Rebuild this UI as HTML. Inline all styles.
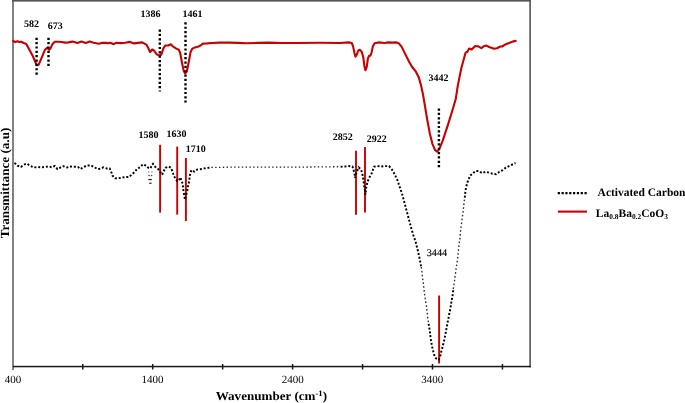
<!DOCTYPE html>
<html><head><meta charset="utf-8"><style>
html,body{margin:0;padding:0;background:#fff;}
svg{display:block;will-change:transform;}
text{font-family:"Liberation Serif",serif;text-rendering:geometricPrecision;}
.b{font-weight:bold;}
</style></head><body>
<svg width="685" height="403" viewBox="0 0 685 403">
<rect width="685" height="403" fill="#fff"/>
<!-- frame -->
<rect x="12" y="0" width="2" height="370" fill="#828282"/>
<rect x="12" y="0" width="519" height="1.6" fill="#555"/>
<rect x="529.3" y="0" width="1.6" height="367.3" fill="#555"/>
<rect x="13" y="365.8" width="517.9" height="1.5" fill="#1a1a1a"/>
<line x1="82.75" y1="364" x2="82.75" y2="369.5" stroke="#1a1a1a" stroke-width="1.5"/><line x1="152.70" y1="364" x2="152.70" y2="369.5" stroke="#1a1a1a" stroke-width="1.5"/><line x1="222.65" y1="364" x2="222.65" y2="369.5" stroke="#1a1a1a" stroke-width="1.5"/><line x1="292.60" y1="364" x2="292.60" y2="369.5" stroke="#1a1a1a" stroke-width="1.5"/><line x1="362.55" y1="364" x2="362.55" y2="369.5" stroke="#1a1a1a" stroke-width="1.5"/><line x1="432.50" y1="364" x2="432.50" y2="369.5" stroke="#1a1a1a" stroke-width="1.5"/><line x1="502.45" y1="364" x2="502.45" y2="369.5" stroke="#1a1a1a" stroke-width="1.5"/>
<!-- tick labels -->
<g font-size="11" text-anchor="middle" fill="#000">
<text x="12.9" y="383.2">400</text>
<text x="152.6" y="383.2">1400</text>
<text x="292.8" y="383.2">2400</text>
<text x="432.3" y="383.2">3400</text>
</g>
<text class="b" transform="translate(271.4,400) scale(1.065,1)" font-size="12.3" text-anchor="middle">Wavenumber (cm<tspan dy="-4.2" font-size="8.2">-1</tspan><tspan dy="4.2">)</tspan></text>
<text class="b" transform="translate(8.9,183) rotate(-90) scale(1.06,1)" font-size="12.4" text-anchor="middle">Transmittance (a.u)</text>
<!-- spectra -->
<path d="M13.2,40.9 L15.1,42.1 L17.6,41.2 L19.4,42.0 L21.3,41.8 L23.8,43.0 L26.3,43.9 L29.4,49.8 L32.5,55.4 L34.9,61.0 L36.8,65.3 L38.7,64.7 L41.8,57.3 L44.9,49.8 L47.3,47.7 L49.2,49.8 L50.4,48.6 L52.3,44.3 L54.8,41.8 L57.9,41.8 L61.6,42.0 L65.3,42.6 L68.4,42.4 L72.6,41.6 L77.4,43.0 L81.4,41.6 L85.8,42.9 L89.7,41.6 L93.6,42.7 L98.9,43.8 L101.5,42.9 L105.9,42.9 L108.5,43.3 L110.3,42.7 L113.8,44.2 L116.4,42.7 L120.8,43.1 L125.2,42.7 L130.0,41.9 L134.2,43.4 L137.9,42.9 L142.3,42.4 L146.6,44.9 L148.5,48.6 L150.1,52.1 L152.2,49.5 L154.0,50.5 L156.5,54.2 L159.0,55.4 L161.2,54.8 L163.3,48.6 L165.2,45.5 L168.3,45.5 L170.8,44.3 L173.2,46.7 L176.3,48.6 L178.8,49.8 L180.2,53.0 L181.9,62.2 L183.7,70.9 L185.2,73.4 L186.8,71.5 L188.7,62.2 L190.5,52.3 L192.4,48.6 L194.9,47.4 L198.6,46.5 L200.5,45.5 L202.9,43.6 L207.3,43.4 L212.2,43.0 L219.7,42.6 L229.6,42.6 L238.0,42.9 L246.0,43.3 L258.0,42.9 L269.0,42.6 L282.0,43.0 L298.0,43.0 L320.0,42.8 L340.0,43.0 L348.7,42.4 L351.8,43.0 L353.0,46.1 L354.3,52.3 L355.5,56.7 L356.7,54.8 L358.3,50.5 L359.8,49.8 L361.7,51.7 L363.3,57.3 L364.4,66.0 L365.4,70.3 L366.7,67.2 L367.9,58.5 L369.1,55.8 L370.4,55.7 L371.6,52.3 L372.9,46.1 L374.7,43.3 L378.4,42.4 L384.6,43.0 L388.3,42.4 L392.1,42.6 L396.4,42.4 L398.7,43.2 L401.7,46.9 L405.4,54.4 L409.1,61.8 L412.1,67.0 L415.8,71.5 L418.8,77.4 L421.1,85.6 L423.0,94.5 L424.6,103.9 L427.2,119.5 L429.8,133.4 L432.4,143.8 L435.0,149.9 L437.2,151.7 L439.3,149.1 L442.8,140.4 L448.0,124.7 L452.3,110.8 L455.8,98.7 L457.8,85.6 L461.3,68.2 L463.9,58.7 L465.6,52.6 L467.4,51.7 L469.1,48.6 L471.7,49.5 L475.2,46.0 L477.8,46.2 L481.3,48.2 L483.9,46.2 L486.5,45.6 L489.1,47.0 L494.3,48.8 L496.9,48.2 L500.4,46.5 L502.1,46.5 L504.7,44.8 L509.1,43.0 L512.5,41.6 L515.7,40.9" fill="none" stroke="#c80000" stroke-width="2.1" stroke-linejoin="round" stroke-linecap="round"/>
<line x1="160.1" y1="144.8" x2="160.1" y2="212.6" stroke="#c80000" stroke-width="1.9"/>
<line x1="177.2" y1="146.6" x2="177.2" y2="214.6" stroke="#c80000" stroke-width="1.9"/>
<line x1="185.9" y1="158" x2="185.9" y2="221" stroke="#c80000" stroke-width="1.9"/>
<line x1="356" y1="150.8" x2="356" y2="214.8" stroke="#c80000" stroke-width="1.9"/>
<line x1="365" y1="147.1" x2="365" y2="212.6" stroke="#c80000" stroke-width="1.9"/>
<line x1="439.1" y1="295.5" x2="439.1" y2="363.5" stroke="#c80000" stroke-width="1.9"/>
<path d="M14.5,162.9 L17.5,165.7 L20.9,166.9 L23.9,164.6 L26.9,163.6 L30.4,165.9 L33.8,167.4 L37.3,167.1 L41.3,167.2 L44.8,167.1 L48.7,166.4 L51.5,167.3 L54.8,166.0 L57.4,169.0 L60.3,167.6 L63.4,166.2 L67.1,167.5 L70.8,166.5 L74.6,166.8 L77.9,166.9 L80.5,169.0 L83.9,166.9 L87.2,165.4 L90.9,165.4 L94.4,167.3 L97.6,169.0 L100.3,168.7 L103.3,167.4 L106.7,168.4 L109.7,168.4 L111.2,171.8 L112.5,175.6 L115.2,178.3 L118.2,178.3 L121.8,177.7 L125.3,177.0 L129.0,177.0 L132.0,174.3 L134.6,172.0 L137.2,168.8 L140.2,167.1 L142.9,164.3 L146.3,165.8 L148.4,168.0 L150.2,168.5 L153.0,163.9 L155.1,166.8 L158.0,168.9 L160.5,172.4 L162.1,174.8 L163.6,171.5 L165.4,167.8 L168.5,166.5 L171.0,167.8 L172.5,171.7 L173.7,175.2 L175.3,178.6 L177.2,181.0 L179.0,180.4 L180.3,177.3 L181.8,181.0 L182.8,184.8 L183.1,188.5 L183.6,192.2 L184.4,195.9 L184.9,199.5 L185.9,195.9 L186.9,192.2 L187.7,188.5 L188.3,184.8 L189.3,181.0 L189.6,177.3 L190.2,173.6 L191.4,170.1 L194.2,171.5 L197.0,169.6 L200.1,169.2 L204.2,168.4 L207.8,167.9 L211.4,167.4" fill="none" stroke="#000" stroke-width="1.95" stroke-dasharray="2.0 1.85"/>
<rect x="148.0" y="171.2" width="1.3" height="1.2" fill="#888"/>
<rect x="151.3" y="171.2" width="1.3" height="1.2" fill="#888"/>
<rect x="148.4" y="174.9" width="1.4" height="1.3" fill="#444"/>
<rect x="150.9" y="174.9" width="1.4" height="1.3" fill="#444"/>
<rect x="148.4" y="178.9" width="3.4" height="1.3" fill="#222"/>
<rect x="149.2" y="182.6" width="2.4" height="1.3" fill="#333"/>
<path d="M211.4,167.4 L230.0,167.2 L260.0,167.2 L300.0,167.1 L340.6,166.7" fill="none" stroke="#222" stroke-width="1.3" stroke-dasharray="1.4 2.4"/>
<path d="M340.6,166.7 L345.0,166.5 L348.7,166.1 L352.4,166.5 L353.6,169.8 L354.6,174.2 L355.1,177.9 L355.9,174.2 L357.4,170.5 L358.8,167.4 L361.1,169.8 L362.3,173.6 L362.9,177.3 L363.6,181.6 L364.2,186.0 L364.8,189.7 L365.4,194.6 L366.3,187.2 L367.3,182.9 L368.3,179.8 L369.8,176.7 L371.6,173.6 L372.9,169.8 L374.1,166.7 L377.2,166.1 L380.9,166.5 L385.2,166.1 L389.0,166.1 L391.4,168.6 L393.3,171.7 L395.2,175.4 L397.0,179.1 L398.3,182.5 L399.2,185.7 L401.9,193.2 L404.9,204.4 L407.9,215.5 L410.8,226.7 L413.9,237.0 L415.4,241.0 L416.3,244.6 L417.3,248.5 L418.2,252.0 L418.9,255.6 L419.9,259.7 L420.5,263.4 L421.2,267.1" fill="none" stroke="#000" stroke-width="1.95" stroke-dasharray="2.0 1.85"/>
<path d="M421.2,267.1 L421.8,270.9 L422.6,278.3 L423.6,286.0 L424.5,293.4 L425.5,301.1 L426.4,305.0 L427.1,312.4 L428.0,319.8 L428.6,323.8" fill="none" stroke="#2a2a2a" stroke-width="1.35" stroke-dasharray="1.6 2.25"/>
<path d="M428.6,323.8 L429.3,327.9 L429.9,331.6 L430.3,335.3 L430.8,339.1 L431.4,342.8 L432.1,346.5 L433.0,350.3 L433.9,354.0 L435.0,357.3 L436.5,358.8 L437.7,359.6 L438.8,359.6 L440.3,356.2 L441.0,352.5 L442.1,348.8 L443.0,345.1 L444.0,341.6 L444.7,337.8 L445.5,333.7 L446.2,329.9 L446.8,326.5 L447.6,322.4 L448.4,318.7 L449.0,315.0 L449.9,311.3 L450.5,307.6 L451.1,303.8 L451.7,300.1 L452.4,296.4 L453.0,292.7 L453.3,289.0" fill="none" stroke="#000" stroke-width="1.95" stroke-dasharray="2.0 1.85"/>
<path d="M453.3,289.0 L453.8,285.6 L454.5,280.9 L454.9,277.2 L455.5,273.7 L455.9,270.0 L456.5,266.3 L457.0,262.6 L457.6,258.6 L458.0,254.9 L458.3,251.2 L458.8,247.4 L459.2,243.5 L459.9,239.4 L460.1,235.7 L460.5,231.8 L460.9,228.2 L461.4,224.4 L462.0,220.4 L462.4,216.7 L463.0,213.0 L463.3,209.3 L463.8,205.5 L464.2,201.4 L464.8,197.7" fill="none" stroke="#2a2a2a" stroke-width="1.35" stroke-dasharray="1.6 2.25"/>
<path d="M464.8,197.7 L465.5,190.3 L467.1,183.1 L468.7,179.0 L470.3,175.5 L472.7,173.4 L475.5,171.0 L478.9,171.0 L482.1,173.1 L485.6,171.8 L488.9,172.6 L492.4,173.7 L496.1,174.2 L499.4,171.8 L502.6,170.2 L505.8,167.7 L509.0,166.1 L512.3,164.5 L515.5,162.9" fill="none" stroke="#000" stroke-width="1.95" stroke-dasharray="2.0 1.85"/>
<line x1="36.6" y1="37.7" x2="36.6" y2="75" stroke="#000" stroke-width="2.4" stroke-dasharray="2.2 2.15"/>
<line x1="48.5" y1="37.7" x2="48.5" y2="66.5" stroke="#000" stroke-width="2.4" stroke-dasharray="2.2 2.15"/>
<line x1="159.8" y1="29.5" x2="159.8" y2="91.5" stroke="#000" stroke-width="2.4" stroke-dasharray="2.2 2.15"/>
<line x1="185.5" y1="22.3" x2="185.5" y2="102.5" stroke="#000" stroke-width="2.4" stroke-dasharray="2.2 2.15"/>
<line x1="438.9" y1="108.5" x2="438.9" y2="168.3" stroke="#000" stroke-width="2.4" stroke-dasharray="2.2 2.15"/>
<!-- peak labels -->
<g class="b" font-size="10" font-weight="bold" text-anchor="middle">
<text x="31.6" y="27">582</text>
<text x="55.2" y="29.3">673</text>
<text x="150.6" y="16.8">1386</text>
<text x="192.4" y="16.8">1461</text>
<text x="438.5" y="80.9">3442</text>
<text x="148.5" y="137.5">1580</text>
<text x="176.6" y="136.7">1630</text>
<text x="195.8" y="152.1">1710</text>
<text x="342.8" y="139.9">2852</text>
<text x="376.8" y="142.1">2922</text>
<text x="436.9" y="255.6" font-weight="normal" font-size="10.2" stroke="#000" stroke-width="0.15">3444</text>
</g>
<!-- legend -->
<line x1="557.7" y1="193.1" x2="587" y2="193.1" stroke="#000" stroke-width="2.3" stroke-dasharray="2.2 1.63"/>
<line x1="557.9" y1="211.6" x2="587" y2="211.6" stroke="#c80000" stroke-width="2.1"/>
<text class="b" x="597.6" y="196" font-size="11.5">Activated Carbon</text>
<text class="b" x="595.8" y="216.7" font-size="11.5">La<tspan font-size="7.4" dy="2.3">0.8</tspan><tspan dy="-2.3">Ba</tspan><tspan font-size="7.4" dy="2.3">0.2</tspan><tspan dy="-2.3">CoO</tspan><tspan font-size="7.4" dy="2.3">3</tspan></text>
</svg>
</body></html>
